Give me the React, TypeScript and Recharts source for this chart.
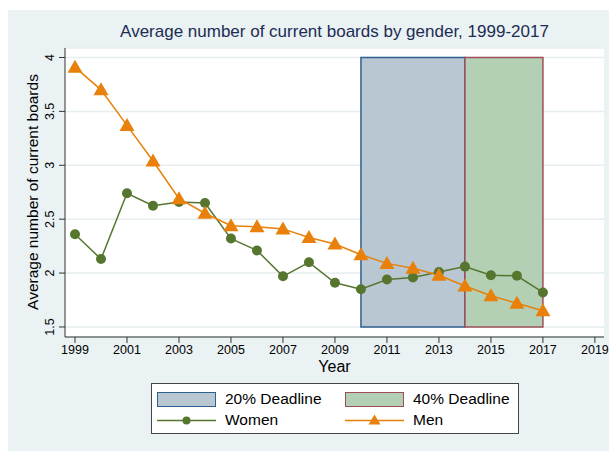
import React from "react"
import {
  ComposedChart,
  Line,
  XAxis,
  YAxis,
  CartesianGrid,
  ReferenceArea,
} from "recharts"

const years = [
  1999, 2000, 2001, 2002, 2003, 2004, 2005, 2006, 2007, 2008,
  2009, 2010, 2011, 2012, 2013, 2014, 2015, 2016, 2017,
]
const women = [
  2.36, 2.13, 2.74, 2.625, 2.66, 2.65, 2.32, 2.21, 1.97, 2.1,
  1.91, 1.85, 1.94, 1.96, 2.01, 2.06, 1.98, 1.975, 1.82,
]
const men = [
  3.91, 3.7, 3.37, 3.04, 2.69, 2.555, 2.44, 2.43, 2.41, 2.33,
  2.27, 2.17, 2.09, 2.045, 1.98, 1.88, 1.79, 1.72, 1.65,
]
const xTicks = [1999, 2001, 2003, 2005, 2007, 2009, 2011, 2013, 2015, 2017, 2019]
const yTicks = [1.5, 2, 2.5, 3, 3.5, 4]
const deadlines = [
  { name: "20% Deadline", from: 2010, to: 2014, fill: "#b9c7d3", stroke: "#2f5f8f" },
  { name: "40% Deadline", from: 2014, to: 2017, fill: "#b3d0b4", stroke: "#a04d5a" },
]

const GREEN = "#56762f"
const ORANGE = "#e8800a"
const BG = "#eaf2f3"
const FONT = "'Liberation Sans', Arial, sans-serif"

const data = years.map((year, i) => ({ year, women: women[i], men: men[i] }))

function YTick({ x, y, payload }: any) {
  return (
    <g>
      <text
        x={x - 7}
        y={y}
        dy="0.36em"
        transform={`rotate(-90, ${x - 7}, ${y})`}
        textAnchor="middle"
        fontSize={12.5}
        fill="#000"
        fontFamily={FONT}
      >
        {payload.value}
      </text>
    </g>
  )
}

function YLabel() {
  const cx = 24
  const cy = 182
  return (
    <text
      x={cx}
      y={cy}
      dy="0.36em"
      transform={`rotate(-90, ${cx}, ${cy})`}
      textAnchor="middle"
      fontSize={15.5}
      fill="#000"
      fontFamily={FONT}
    >
      Average number of current boards
    </text>
  )
}

function Triangle({ cx, cy, fill }: any) {
  if (cx == null || cy == null) return null
  return (
    <path
      d={`M${cx},${cy - 7.5} L${cx + 7.5},${cy + 5.5} L${cx - 7.5},${cy + 5.5} Z`}
      fill={fill}
    />
  )
}

export default function App() {
  return (
    <div
      style={{
        position: "absolute",
        left: 8,
        top: 10,
        width: 601,
        height: 441,
        background: BG,
        fontFamily: FONT,
      }}
    >
      <div
        style={{
          position: "absolute",
          left: 57,
          width: 539,
          top: 12,
          textAlign: "center",
          fontSize: 17,
          color: "#1c2c52",
        }}
      >
        Average number of current boards by gender, 1999-2017
      </div>
      <ComposedChart
        width={601}
        height={441}
        data={data}
        margin={{ top: 38, right: 5, left: 0, bottom: 84 }}
      >
        <CartesianGrid
          horizontal
          vertical={false}
          fill="#ffffff"
          stroke="#e6eeef"
          strokeWidth={1.5}
        />
        <XAxis
          dataKey="year"
          type="number"
          domain={[1998.615, 2019.35]}
          ticks={xTicks}
          allowDataOverflow
          stroke="#333"
          tickSize={6}
          tick={{ fill: "#000", fontSize: 12.5, fontFamily: FONT }}
          height={30}
          label={{
            value: "Year",
            position: "insideBottom",
            offset: -5,
            fontSize: 16,
            fill: "#000",
            fontFamily: FONT,
          }}
        />
        <YAxis
          type="number"
          domain={[1.407, 4.088]}
          ticks={yTicks}
          allowDataOverflow
          stroke="#333"
          tickSize={6}
          width={57}
          tick={<YTick />}
          label={<YLabel />}
        />
        {deadlines.map((d) => (
          <ReferenceArea
            key={d.name}
            x1={d.from}
            x2={d.to}
            y1={1.5}
            y2={4}
            fill={d.fill}
            fillOpacity={1}
            stroke={d.stroke}
            strokeWidth={1.5}
          />
        ))}
        <Line
          dataKey="women"
          stroke={GREEN}
          strokeWidth={1.5}
          dot={{ r: 5, fill: GREEN, stroke: GREEN, strokeWidth: 0 }}
          isAnimationActive={false}
        />
        <Line
          dataKey="men"
          stroke={ORANGE}
          strokeWidth={1.5}
          dot={<Triangle fill={ORANGE} />}
          isAnimationActive={false}
        />
      </ComposedChart>
      <div
        style={{
          position: "absolute",
          left: 143,
          top: 373,
          width: 368,
          height: 51,
          background: "#fff",
          border: "1px solid #444",
          boxSizing: "border-box",
          fontSize: 15.5,
          color: "#000",
        }}
      >
        {deadlines.map((d, i) => (
          <div
            key={d.name}
            style={{ position: "absolute", left: i === 0 ? 5 : 193, top: 6, display: "flex", alignItems: "center" }}
          >
            <div
              style={{
                width: 59,
                height: 15,
                background: d.fill,
                border: `1.5px solid ${d.stroke}`,
                boxSizing: "border-box",
              }}
            />
            <span style={{ marginLeft: 9 }}>{d.name}</span>
          </div>
        ))}
        {[
          { name: "Women", color: GREEN, shape: "circle" },
          { name: "Men", color: ORANGE, shape: "triangle" },
        ].map((s, i) => (
          <div
            key={s.name}
            style={{ position: "absolute", left: i === 0 ? 5 : 193, top: 27, display: "flex", alignItems: "center" }}
          >
            <svg width={59} height={15}>
              <line x1={0} y1={7.5} x2={59} y2={7.5} stroke={s.color} strokeWidth={1.5} />
              {s.shape === "circle" ? (
                <circle cx={29.5} cy={7.5} r={4} fill={s.color} />
              ) : (
                <path d="M29.5,1.5 L35.5,11.5 L23.5,11.5 Z" fill={s.color} />
              )}
            </svg>
            <span style={{ marginLeft: 9 }}>{s.name}</span>
          </div>
        ))}
      </div>
    </div>
  )
}
